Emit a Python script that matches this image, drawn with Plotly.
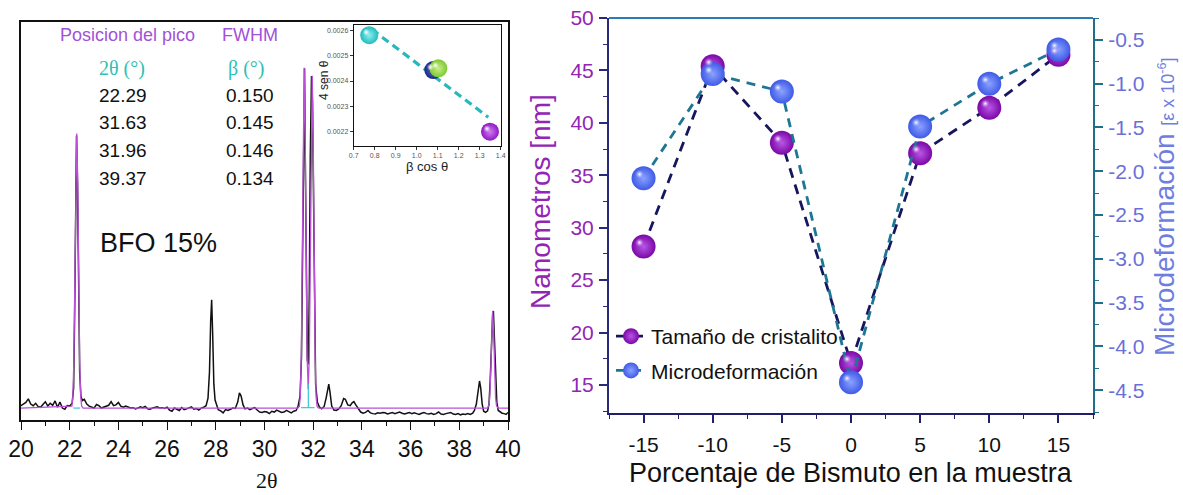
import plotly.graph_objects as go

W, H = 1183, 495
SANS = "Liberation Sans, Arial, sans-serif"
SERIF = "Liberation Serif, Times New Roman, serif"

# ---------------- XRD pattern (BFO 15%) ----------------
xrd_2theta = [
    20.0, 20.1, 20.2, 20.3, 20.4, 20.5, 20.6, 20.7, 20.8, 20.9, 21.0, 21.1, 21.2, 21.3, 21.4, 21.5,
    21.6, 21.7, 21.8, 21.9, 22.0, 22.1, 22.16, 22.2, 22.24, 22.28, 22.32, 22.36, 22.41, 22.46, 22.52,
    22.6, 22.7, 22.8, 22.9, 23.0, 23.1, 23.2, 23.3, 23.4, 23.5, 23.6, 23.7, 23.8, 23.9, 24.0, 24.1,
    24.2, 24.3, 24.4, 24.5, 24.6, 24.7, 24.8, 24.9, 25.0, 25.1, 25.2, 25.3, 25.4, 25.5, 25.6, 25.7,
    25.8, 25.9, 26.0, 26.1, 26.2, 26.3, 26.4, 26.5, 26.6, 26.7, 26.8, 26.9, 27.0, 27.1, 27.2, 27.3,
    27.4, 27.5, 27.6, 27.68, 27.74, 27.79, 27.83, 27.87, 27.92, 27.97, 28.05, 28.1, 28.2, 28.3, 28.4,
    28.5, 28.6, 28.7, 28.8, 28.9, 28.97, 29.04, 29.12, 29.2, 29.3, 29.4, 29.5, 29.6, 29.7, 29.8, 29.9,
    30.0, 30.1, 30.2, 30.3, 30.4, 30.5, 30.6, 30.7, 30.8, 30.9, 31.0, 31.1, 31.2, 31.3, 31.38, 31.46,
    31.52, 31.57, 31.61, 31.645, 31.68, 31.72, 31.76, 31.8, 31.84, 31.88, 31.93, 31.97, 32.01, 32.05,
    32.1, 32.17, 32.25, 32.35, 32.45, 32.53, 32.6, 32.64, 32.69, 32.76, 32.85, 32.95, 33.05, 33.15,
    33.25, 33.32, 33.42, 33.52, 33.6, 33.67, 33.75, 33.85, 33.95, 34.05, 34.15, 34.25, 34.35, 34.45,
    34.55, 34.65, 34.75, 34.85, 34.95, 35.05, 35.15, 35.25, 35.35, 35.45, 35.55, 35.65, 35.75, 35.85,
    35.95, 36.05, 36.15, 36.25, 36.35, 36.45, 36.55, 36.65, 36.75, 36.85, 36.95, 37.05, 37.15, 37.25,
    37.35, 37.45, 37.55, 37.65, 37.75, 37.85, 37.95, 38.05, 38.15, 38.25, 38.35, 38.45, 38.55, 38.62,
    38.7, 38.77, 38.83, 38.88, 38.94, 39.0, 39.08, 39.16, 39.22, 39.27, 39.32, 39.37, 39.4, 39.44,
    39.49, 39.54, 39.6, 39.68, 39.76, 39.84, 39.92, 40.0,
]
xrd_intensity = [
    3.6, 3.9, 4.4, 5.3, 4.0, 3.6, 4.2, 3.4, 3.2, 3.9, 4.6, 3.5, 4.2, 3.7, 4.8, 3.2,
    4.5, 3.0, 2.7, 3.6, 3.5, 4.2, 8.0, 25.0, 55.0, 71.5, 60.0, 33.0, 12.0, 6.0, 4.9,
    5.2, 4.0, 3.5, 3.2, 3.0, 3.9, 3.6, 3.0, 3.2, 3.4, 3.7, 4.6, 3.6, 3.8, 4.4, 3.5,
    3.2, 3.5, 3.3, 3.0, 3.1, 2.8, 3.0, 3.3, 3.1, 3.4, 2.8, 2.7, 3.0, 3.2, 3.3, 3.0,
    3.1, 2.9, 3.2, 2.5, 2.2, 3.0, 2.6, 2.4, 3.1, 2.6, 2.8, 3.0, 3.3, 2.7, 2.9, 2.5,
    3.0, 3.2, 3.6, 5.5, 12.0, 25.0, 30.2, 22.0, 9.0, 5.0, 3.5, 2.6, 2.3, 1.8, 2.6,
    2.4, 2.7, 3.0, 2.9, 4.5, 6.8, 6.0, 3.8, 2.8, 3.0, 2.6, 2.9, 3.1, 2.5, 2.0, 1.9,
    2.1, 2.0, 1.6, 2.2, 2.0, 2.5, 2.2, 1.9, 2.0, 2.4, 2.1, 1.8, 2.2, 2.4, 3.5, 6.0,
    16.0, 48.0, 82.0, 88.4, 62.0, 30.0, 15.0, 14.0, 32.0, 66.0, 86.4, 80.0, 52.0, 24.0,
    9.0, 4.5, 3.3, 2.8, 3.4, 5.5, 8.5, 9.0, 7.0, 3.5, 2.5, 2.4, 2.8, 3.6,
    5.4, 5.2, 3.8, 3.6, 4.3, 4.6, 3.8, 2.8, 2.0, 1.7, 1.9, 2.4, 1.8, 1.6,
    1.5, 1.8, 1.7, 1.9, 1.8, 1.5, 1.7, 1.9, 1.6, 1.8, 2.0, 1.7, 1.5, 1.7,
    1.9, 1.6, 1.8, 1.6, 1.4, 1.7, 1.9, 1.6, 1.5, 1.7, 1.4, 1.6, 2.0, 1.5,
    1.4, 1.6, 1.8, 1.9, 1.5, 1.4, 1.6, 1.3, 1.5, 1.4, 1.6, 1.4, 1.7, 2.4,
    4.0, 7.5, 9.8, 8.0, 4.0, 2.2, 1.9, 2.3, 4.0, 10.0, 20.0, 26.5, 27.4, 21.0,
    11.0, 4.5, 2.4, 2.0, 1.7, 1.6, 1.4, 1.9,
]

# Peak fit (magenta)
fit_2theta = [
    20.0, 22.09, 22.13, 22.17, 22.21, 22.25, 22.29, 22.33, 22.37, 22.41, 22.45, 22.49, 22.55,
    31.37, 31.43, 31.47, 31.51, 31.55, 31.59, 31.63, 31.67, 31.71, 31.75, 31.795, 31.84, 31.88,
    31.92, 31.96, 32.0, 32.04, 32.08, 32.12, 32.16, 32.22,
    39.15, 39.21, 39.25, 39.29, 39.33, 39.37, 39.41, 39.45, 39.49, 39.53, 39.6, 40.0,
]
fit_intensity = [
    3.0, 3.5, 6.0, 14.7, 34.4, 59.6, 72.0, 59.6, 34.4, 14.7, 6.0, 3.5, 3.0,
    3.0, 3.4, 5.9, 15.8, 39.8, 72.3, 88.5, 72.3, 39.8, 16.0, 7.7, 16.0, 38.9,
    70.6, 86.5, 70.6, 38.9, 15.5, 5.8, 3.4, 3.0,
    3.0, 3.5, 5.6, 12.0, 22.0, 27.4, 22.0, 12.0, 5.6, 3.5, 3.0, 3.0,
]

# Individual fit components base (cyan)
comp_2theta = [22.15, 22.43, None, 31.5, 32.06, None, 31.8, 31.8]
comp_intensity = [3.0, 3.0, None, 3.1, 3.1, None, 3.1, 9.0]

peak_positions = ["22.29", "31.63", "31.96", "39.37"]
peak_fwhm = ["0.150", "0.145", "0.146", "0.134"]

# ---------------- Williamson-Hall inset ----------------
wh_beta_cos = [0.774, 1.079, 1.103, 1.349]
wh_4sin = [0.00258, 0.002443, 0.00245, 0.002201]
wh_colors = ["#1fbcc0", "#1a2a88", "#7ec832", "#9016c4"]
wh_light = ["#8eeeee", "#5566c8", "#c8f08a", "#cf7cf2"]
wh_fit_x = [0.786, 1.341]
wh_fit_y = [0.002603, 0.002258]

# ---------------- Crystallite size / microstrain ----------------
bi_percent = [-15, -10, -5, 0, 5, 10, 15]
crystal_size_nm = [28.2, 45.4, 38.1, 17.1, 37.1, 41.45, 46.5]
microstrain = [-2.08, -0.89, -1.09, -4.41, -1.49, -1.00, -0.61]

x_ticks_r = [-15, -10, -5, 0, 5, 10, 15]
x_ticktext_r = ["-15", "-10", "-5", "0", "5", "10", "15"]
strain_ticks = [-0.5, -1.0, -1.5, -2.0, -2.5, -3.0, -3.5, -4.0, -4.5]
strain_ticktext = ["-0.5", "-1.0", "-1.5", "-2.0", "-2.5", "-3.0", "-3.5", "-4.0", "-4.5"]

# ---------------- layout helpers ----------------
def dx(p0, p1):
    return [p0 / W, p1 / W]

def dy(top, bottom):
    return [1 - bottom / H, 1 - top / H]

fig = go.Figure()

# XRD traces
fig.add_trace(go.Scatter(x=xrd_2theta, y=xrd_intensity, mode="lines",
                         line=dict(color="#111111", width=1.5), xaxis="x", yaxis="y",
                         showlegend=False, hoverinfo="skip"))
fig.add_trace(go.Scatter(x=fit_2theta, y=fit_intensity, mode="lines",
                         line=dict(color="#bb4fd8", width=1.3), xaxis="x", yaxis="y",
                         showlegend=False, hoverinfo="skip"))
fig.add_trace(go.Scatter(x=comp_2theta, y=comp_intensity, mode="lines",
                         line=dict(color="#37c9d4", width=1.2), xaxis="x", yaxis="y",
                         showlegend=False, hoverinfo="skip"))

# Inset traces
fig.add_trace(go.Scatter(x=wh_fit_x, y=wh_fit_y, mode="lines",
                         line=dict(color="#26b8bc", width=3.2, dash="8px,5px"),
                         xaxis="x2", yaxis="y2", showlegend=False))
fig.add_trace(go.Scatter(x=wh_beta_cos, y=wh_4sin, mode="markers",
                         marker=dict(size=18, color=wh_colors, line=dict(width=0),
                                     gradient=dict(type="radial", color=wh_light)),
                         xaxis="x2", yaxis="y2", showlegend=False, cliponaxis=False))
fig.add_trace(go.Scatter(x=wh_beta_cos, y=wh_4sin, mode="markers",
                         marker=dict(size=7, color="rgba(255,255,255,0)", line=dict(width=0),
                                     gradient=dict(type="radial", color="white")),
                         xaxis="x5", yaxis="y7", showlegend=False, cliponaxis=False))

# Right chart
purple_marker = dict(size=24, color="#7a08a6", line=dict(width=0),
                     gradient=dict(type="radial", color="#b956e6"))
blue_marker = dict(size=24, color="#3f5ae6", line=dict(width=0),
                   gradient=dict(type="radial", color="#8aa2ff"))

fig.add_trace(go.Scatter(x=bi_percent, y=crystal_size_nm, mode="lines+markers",
                         name="Tamaño de cristalito", legendgroup="a",
                         line=dict(color="#16165e", width=2.8, dash="10px,7px"),
                         marker=purple_marker, xaxis="x3", yaxis="y3", cliponaxis=False))
fig.add_trace(go.Scatter(x=bi_percent, y=crystal_size_nm, mode="markers",
                         marker=dict(size=9, color="rgba(200,120,240,0)", line=dict(width=0),
                                     gradient=dict(type="radial", color="white")),
                         xaxis="x4", yaxis="y5", showlegend=False, cliponaxis=False))
fig.add_trace(go.Scatter(x=bi_percent, y=microstrain, mode="lines+markers",
                         name="Microdeformación", legendgroup="b",
                         line=dict(color="#1d7694", width=2.8, dash="9px,7px"),
                         marker=blue_marker, xaxis="x3", yaxis="y4", cliponaxis=False))
fig.add_trace(go.Scatter(x=bi_percent, y=microstrain, mode="markers",
                         marker=dict(size=9, color="rgba(150,170,255,0)", line=dict(width=0),
                                     gradient=dict(type="radial", color="white")),
                         xaxis="x4", yaxis="y6", showlegend=False, cliponaxis=False))

# ---------------- axes ----------------
xrd_dom_x = dx(21, 508)
xrd_dom_y = dy(22, 420)
ins_dom_x = dx(353.7, 500.7)
ins_dom_y = dy(25, 146)
r_dom_x = dx(609, 1093)
r_dom_y = dy(18, 413)

shift = 4
ish = 3
x_range_r = [-17.5, 17.5]
y_range_l = [12.33, 50]
y_range_r = [-4.76, -0.25]
ins_xr = [0.7, 1.4]
ins_yr = [0.002145, 0.00262]

fig.update_layout(
    width=W, height=H,
    margin=dict(l=0, r=0, t=0, b=0, pad=0, autoexpand=False),
    paper_bgcolor="white", plot_bgcolor="rgba(0,0,0,0)",
    font=dict(family=SANS, color="#111111"),
    xaxis=dict(domain=xrd_dom_x, anchor="y", range=[20, 40], dtick=2, tick0=20,
               showline=True, mirror=True, linecolor="#111111", linewidth=1.5,
               ticks="outside", ticklen=8, tickwidth=1.3, tickcolor="#111111",
               minor=dict(dtick=1, ticks="outside", ticklen=4, tickcolor="#111111", tickwidth=1.2),
               tickfont=dict(size=23, color="#111111"), showgrid=False, zeroline=False,
               automargin=False),
    yaxis=dict(domain=xrd_dom_y, anchor="x", range=[0, 100], showticklabels=False, ticks="",
               showline=True, mirror=True, linecolor="#111111", linewidth=1.5,
               showgrid=False, zeroline=False, automargin=False),
    xaxis2=dict(domain=ins_dom_x, anchor="y2", range=ins_xr, dtick=0.1, tick0=0.7, tickformat=".1f",
                showline=True, mirror=True, linecolor="#111111", linewidth=1,
                ticks="outside", ticklen=3, tickcolor="#333333", tickwidth=0.8,
                tickfont=dict(size=7, color="#555555"), showgrid=False, zeroline=False,
                automargin=False),
    yaxis2=dict(domain=ins_dom_y, anchor="x2", range=ins_yr, dtick=0.0001, tick0=0.0022,
                tickformat=".4f", showline=True, mirror=True, linecolor="#111111", linewidth=1,
                ticks="outside", ticklen=3, tickcolor="#333333", tickwidth=0.8,
                tickfont=dict(size=7, color="#555555"), showgrid=False, zeroline=False,
                automargin=False),
    xaxis5=dict(domain=[ins_dom_x[0] - ish / W, ins_dom_x[1] - ish / W], anchor="y7",
                range=ins_xr, visible=False, automargin=False),
    yaxis7=dict(domain=[ins_dom_y[0] + ish / H, ins_dom_y[1] + ish / H], anchor="x5",
                range=ins_yr, visible=False, automargin=False),
    xaxis3=dict(domain=r_dom_x, anchor="y3", range=x_range_r,
                tickmode="array", tickvals=x_ticks_r, ticktext=x_ticktext_r,
                showline=True, linecolor="#1f1f6a", linewidth=2,
                ticks="outside", ticklen=8, tickwidth=1.5, tickcolor="#1f1f6a",
                minor=dict(dtick=2.5, tick0=-15, ticks="outside", ticklen=4, tickcolor="#1f1f6a", tickwidth=1.3),
                tickfont=dict(size=21, color="#111111"), ticklabelstandoff=4,
                showgrid=False, zeroline=False, automargin=False),
    yaxis3=dict(domain=r_dom_y, anchor="x3", range=y_range_l, dtick=5, tick0=0,
                showline=True, linecolor="#2a2a7a", linewidth=2,
                ticks="outside", ticklen=8, tickwidth=1.5, tickcolor="#2a2a7a",
                minor=dict(dtick=2.5, tick0=0, ticks="outside", ticklen=4, tickcolor="#2a2a7a", tickwidth=1.3),
                tickfont=dict(size=21, color="#9325b5"), ticklabelstandoff=1,
                showgrid=False, zeroline=False, automargin=False),
    yaxis4=dict(overlaying="y3", anchor="x3", side="right", range=y_range_r,
                tickmode="array", tickvals=strain_ticks, ticktext=strain_ticktext,
                showline=True, linecolor="#1f6e8c", linewidth=2,
                ticks="outside", ticklen=8, tickwidth=1.5, tickcolor="#1f6e8c",
                minor=dict(dtick=0.25, tick0=-0.5, ticks="outside", ticklen=4, tickcolor="#1f6e8c", tickwidth=1.3),
                tickfont=dict(size=21, color="#6a70d8"), ticklabelstandoff=1,
                showgrid=False, zeroline=False, automargin=False),
    xaxis4=dict(domain=[r_dom_x[0] - shift / W, r_dom_x[1] - shift / W], anchor="y5",
                range=x_range_r, visible=False, automargin=False),
    yaxis5=dict(domain=[r_dom_y[0] + shift / H, r_dom_y[1] + shift / H], anchor="x4",
                range=y_range_l, visible=False, automargin=False),
    yaxis6=dict(overlaying="y5", anchor="x4", range=y_range_r, visible=False, automargin=False),
    legend=dict(x=611 / W, y=1 - 316 / H, xanchor="left", yanchor="top",
                font=dict(size=21, color="#111111", family=SANS),
                bgcolor="rgba(0,0,0,0)", borderwidth=0, tracegroupgap=4,
                itemwidth=30),
)

# top frame line of the right chart
fig.add_shape(type="line", xref="x3 domain", yref="y3 domain", x0=0, x1=1, y0=1, y1=1,
              line=dict(color="#2b7db5", width=2))

# ---------------- text ----------------
def ann(text, x, y, size, color="#111111", family=SANS, angle=0):
    fig.add_annotation(text=text, x=x / W, y=1 - y / H, xref="paper", yref="paper",
                       showarrow=False, xanchor="center", yanchor="middle", textangle=angle,
                       font=dict(size=size, color=color, family=family))

ann("Posicion del pico", 128, 35, 18, "#a052d8")
ann("FWHM", 250, 35, 18, "#a052d8")
ann("2θ (°)", 122, 68, 20, "#2ebfb5", SERIF)
ann("β (°)", 246, 68, 20, "#2ebfb5", SERIF)
for i, (p, f) in enumerate(zip(peak_positions, peak_fwhm)):
    yy = 95 + i * 27.8
    ann(p, 123, yy, 19)
    ann(f, 250, yy, 19)
ann("BFO 15%", 158, 243, 27)
ann("2θ", 267, 480, 22, "#111111", SERIF)

ann("4 sen θ", 324, 80, 12, "#222222", SANS, -90)
ann("β cos θ", 427, 167, 13, "#222222")

ann("Nanometros [nm]", 541, 202, 28, "#9325b5", SANS, -90)
ann("Microdeformación <span style='font-size:18px'>[ε x 10<sup>-6</sup>]</span>",
    1164, 207, 28, "#6e7ee0", SANS, -90)
ann("Porcentaje de Bismuto en la muestra", 851, 473, 27, "#111111")

fig.write_html("out.html")
